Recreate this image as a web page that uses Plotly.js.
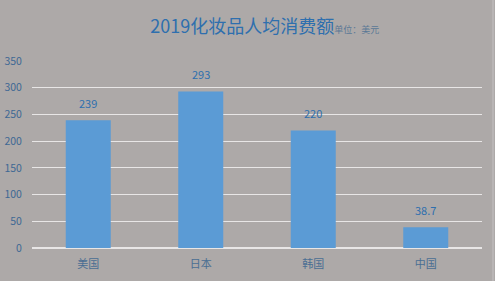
<!DOCTYPE html>
<html><head><meta charset="utf-8">
<script src="https://cdn.plot.ly/plotly-3.0.1.min.js"></script>
<style>html,body{margin:0;padding:0;background:#ADA9A8;}#c{width:495px;height:281px;}</style>
</head><body><div id="c"></div>
<script>
var categories = ['美国', '日本', '韩国', '中国'];
var values = [239, 293, 220, 38.7];
var labels = ['239', '293', '220', '38.7'];
var tickVals = [0, 50, 100, 150, 200, 250, 300, 350];
var tickText = ['0', '50', '100', '150', '200', '250', '300', '350'];

var font = "'Noto Sans CJK SC', 'Noto Sans', sans-serif";
var annots = categories.map(function(c, i) {
  return {x: c, y: values[i], text: labels[i], showarrow: false, yanchor: 'bottom', yshift: 7,
    font: {color: '#2E6FAE', size: 11, family: font}};
});
Plotly.newPlot('c', [{
  type: 'bar', x: categories, y: values,
  marker: {color: '#5B9BD5'}, hoverinfo: 'none'
}], {
  width: 495, height: 281,
  paper_bgcolor: '#ADA9A8', plot_bgcolor: '#ADA9A8',
  margin: {l: 32, r: 13, t: 61, b: 33},
  bargap: 0.6,
  showlegend: false,
  annotations: annots,
  shapes: [{type: 'line', xref: 'paper', yref: 'paper', x0: 1.0244, x1: 1.0244, y0: -0.2, y1: 1.4,
    line: {color: '#BDBABA', width: 1.5}}],
  title: {text: '2019化妆品人均消费额<span style="font-size:9px;color:#5A7896">单位：美元</span>',
    x: 0.535, xanchor: 'center', y: 0.905, yanchor: 'middle',
    font: {family: font, size: 18, color: '#2E6FAE'}},
  xaxis: {tickfont: {family: font, size: 11, color: '#4A6E93'}, showgrid: false, showline: false, ticks: '', zeroline: false, ticklabelstandoff: 8},
  yaxis: {range: [0, 350], tickvals: tickVals, ticktext: tickText, tickfont: {family: font, size: 10.5, color: '#3E6894'},
    ticks: 'outside', ticklen: 7, tickcolor: 'rgba(0,0,0,0)',
    gridcolor: '#E8E6E6', gridwidth: 1, zeroline: true, zerolinecolor: '#E8E6E6', zerolinewidth: 1.5, showline: false}
}, {displayModeBar: false, staticPlot: true});
</script></body></html>
